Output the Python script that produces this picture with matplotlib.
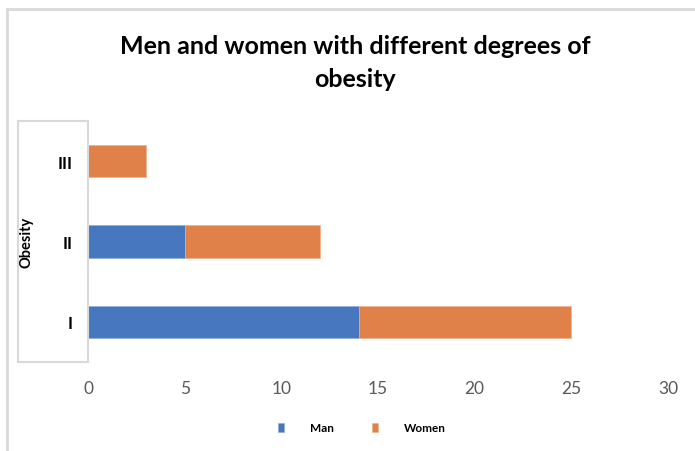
import matplotlib.pyplot as plt
from matplotlib.lines import Line2D

# data
categories = ['I', 'II', 'III']
man = [14, 5, 0]
women = [11, 7, 3]
x_ticks = [0, 5, 10, 15, 20, 25, 30]

blue = '#4677BF'
orange = '#E1814A'
gray_line = '#D9D9D9'

plt.rcParams['font.family'] = ['Lato', 'DejaVu Sans']

fig = plt.figure(figsize=(6.95, 4.52), dpi=100)
W, H = 695, 452
ax = fig.add_axes([88 / W, 1 - 363 / H, (668 - 88) / W, (363 - 122) / H])

b1 = ax.barh(categories, man, height=0.4, color=blue, edgecolor='#8FA9D8', linewidth=0.4, label='Man')
b2 = ax.barh(categories, women, left=man, height=0.4, color=orange, edgecolor='#F0B08A', linewidth=0.4, label='Women')

ax.set_xlim(0, 30)
ax.set_ylim(-0.5, 2.5)
ax.set_xticks(x_ticks)
ax.tick_params(axis='x', length=0, labelsize=12.5, labelcolor='#595959', pad=13)
ax.tick_params(axis='y', length=0, labelsize=12, pad=11)
for lab in ax.get_yticklabels():
    lab.set_fontweight('bold')
for s in ['top', 'right', 'bottom']:
    ax.spines[s].set_visible(False)
ax.spines['left'].set_color(gray_line)
ax.spines['left'].set_linewidth(1.5)

# category axis box
def fline(xs, ys, lw=1.5):
    fig.add_artist(Line2D([x / W for x in xs], [1 - y / H for y in ys],
                          color=gray_line, linewidth=lw, transform=fig.transFigure))

fline([18, 88], [122, 122])
fline([18, 88], [363, 363])
fline([18, 18], [122, 363])
# outer chart border
fline([7, 695], [10, 10], lw=2)
fline([7, 7], [10, 452], lw=2)

fig.text(27 / W, 1 - 242 / H, 'Obesity', rotation=90, ha='center', va='center',
         fontsize=10.5, fontweight='bold')

fig.text(355 / W, 1 - 63 / H, 'Men and women with different degrees of\nobesity',
         ha='center', va='center', fontsize=18, fontweight='bold', linespacing=1.55)

fig.legend(handles=[b1, b2], labels=['Man', 'Women'], loc='center',
           bbox_to_anchor=(362 / W, 1 - 429 / H), ncol=2, frameon=False,
           handlelength=0.55, handleheight=0.9, handletextpad=2.2, columnspacing=3.2,
           prop={'size': 8.5, 'weight': 'bold'})

fig.savefig('out.png', dpi=100)
